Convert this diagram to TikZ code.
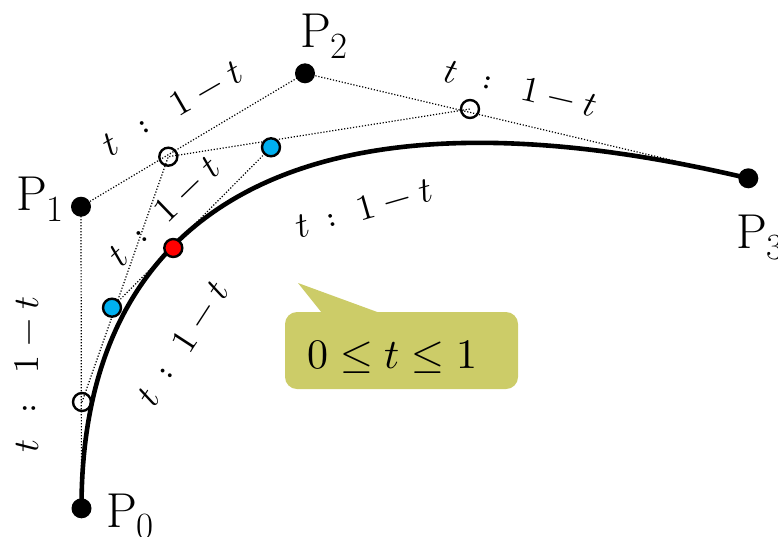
\documentclass[tikz,border=0pt]{standalone}
\usepackage{amsmath}
\usepackage{unicode-math}
\definecolor{ptblue}{RGB}{0,176,240}
\definecolor{callout}{RGB}{204,204,104}
\newcommand{\ratiotxt}[2]{$t$\hspace{#1}$:$\hspace{#2}$1$\hspace{9pt}$\mathord{-}$\hspace{9pt}$t$}
\newcommand{\plab}[1]{\fontsize{49}{49}\selectfont P\raisebox{-11pt}{\fontsize{37}{37}\selectfont #1}}
\begin{document}
\begin{tikzpicture}[x=1pt,y=-1pt,
  dotline/.style={line width=1.2pt, dash pattern=on 1.2pt off 1.8pt},
  ctrl/.style={circle, fill=black, minimum size=20pt, inner sep=0pt},
  hollow/.style={circle, draw=black, line width=2.4pt, minimum size=18pt, inner sep=0pt},
  bluept/.style={hollow, fill=ptblue},
  redpt/.style={hollow, fill=red},
  ratiolab/.style={inner sep=0pt, font=\fontsize{36}{36}\selectfont},
  plab/.style={inner sep=0pt, anchor=base west},
  curve/.style={line width=4.6pt}]
\useasboundingbox (0,0) rectangle (778,536);
% coordinates of points
\coordinate (p0) at (81.5,508.3);
\coordinate (p1) at (81,206.7);
\coordinate (p2) at (305,73.3);
\coordinate (p3) at (748.3,178.3);
\coordinate (q0) at (82,402);
\coordinate (q1) at (168.3,156.7);
\coordinate (q2) at (470,109);
\coordinate (r0) at (112,307.7);
\coordinate (r1) at (271,147.3);
\coordinate (s0) at (173.3,248);
% callout
\fill[callout, rounded corners=12pt] (285,312) rectangle (518,389);
\fill[callout] (298,283) -- (322,313) -- (380,313) -- cycle;
\node[inner sep=0pt, anchor=base, font=\fontsize{42}{42}\selectfont] (range) at (392.5,368) {$0\le t\le 1$};
% dotted construction lines
\draw[dotline] (p0) -- (p1) -- (p2) -- (p3);
\draw[dotline] (q0) -- (q1) -- (q2);
\draw[dotline] (r0) -- (r1);
% curve
\draw[curve] (p0) .. controls (p1) and (p2) .. (p3);
% points
\node[ctrl] (P0) at (p0) {};
\node[ctrl] (P1) at (p1) {};
\node[ctrl] (P2) at (p2) {};
\node[ctrl] (P3) at (p3) {};
\node[hollow] (Q0) at (q0) {};
\node[hollow] (Q1) at (q1) {};
\node[hollow] (Q2) at (q2) {};
\node[bluept] (R0) at (r0) {};
\node[bluept] (R1) at (r1) {};
\node[redpt] (S0) at (s0) {};
% point labels
\node[plab] (L0) at (106,527) {\plab{0}};
\node[plab] (L1) at (16,210) {\plab{1}};
\node[plab] (L2) at (300,47) {\plab{2}};
\node[plab] (L3) at (736,248) {\plab{3}};
% ratio labels
\node[ratiolab, rotate=90] (t1) at (27,374) {\ratiotxt{26pt}{30pt}};
\node[ratiolab, rotate=30] (t2) at (172,108) {\ratiotxt{26pt}{30pt}};
\node[ratiolab, rotate=-13] (t3) at (521,88) {\ratiotxt{26pt}{30pt}};
\node[ratiolab, rotate=16] (t4) at (364,208) {\ratiotxt{18pt}{22pt}};
\node[ratiolab, rotate=44] (t5) at (164,211) {\ratiotxt{18pt}{22pt}};
\node[ratiolab, rotate=57] (t6) at (183,343) {\ratiotxt{18pt}{22pt}};
\end{tikzpicture}
\end{document}
